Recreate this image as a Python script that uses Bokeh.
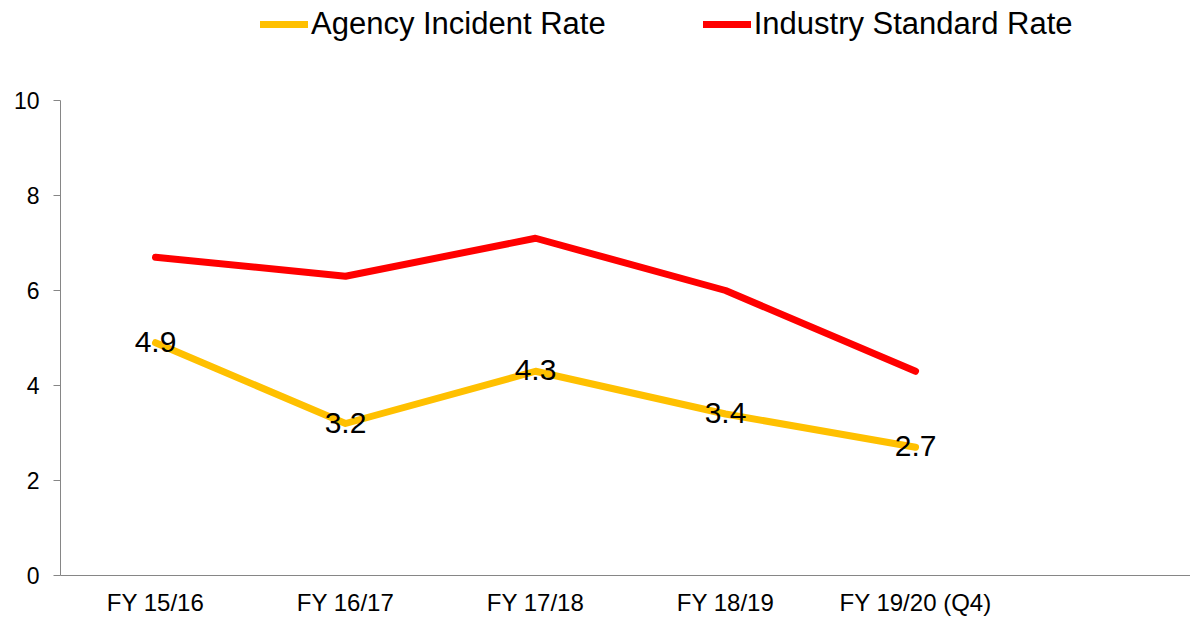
from bokeh.plotting import figure
from bokeh.models import ColumnDataSource, Legend, LegendItem, FixedTicker, Range1d
from bokeh.embed import file_html
from bokeh.resources import INLINE

categories = ["FY 15/16", "FY 16/17", "FY 17/18", "FY 18/19", "FY 19/20 (Q4)"]
agency = [4.9, 3.2, 4.3, 3.4, 2.7]
industry = [6.7, 6.3, 7.1, 6.0, 4.3]
y_ticks = [0, 2, 4, 6, 8, 10]

xs = list(range(1, len(categories) + 1))
src = ColumnDataSource(dict(x=xs, agency=agency, industry=industry,
                            lab=[f"{v:.1f}" for v in agency]))

FONT = "Liberation Sans"
AX = "#868686"

# frame covers the full height above the x axis; the y axis line is bounded to 0..10
p = figure(width=1190, height=619, output_backend="svg", toolbar_location=None,
           x_range=Range1d(0.5, 6.447), y_range=Range1d(0, 575 / 47.5),
           min_border_left=60, min_border_right=0, min_border_top=0, min_border_bottom=44)
p.outline_line_color = None
p.grid.visible = False
p.background_fill_color = "white"
p.border_fill_color = "white"

r_ag = p.line("x", "agency", source=src, line_color="#FFC000", line_width=7, line_cap="round", line_join="round")
r_in = p.line("x", "industry", source=src, line_color="#FF0000", line_width=7, line_cap="round", line_join="round")

p.text("x", "agency", text="lab", source=src, text_align="center", text_baseline="middle",
       text_font_size="30px", text_color="black", y_offset=-1, text_font={"value": FONT})

# axes
p.xaxis.ticker = FixedTicker(ticks=xs)
p.xaxis.major_label_overrides = {i: c for i, c in zip(xs, categories)}
p.xaxis.major_tick_out = 0
p.xaxis.major_tick_in = 0
p.xaxis.minor_tick_out = 0
p.xaxis.minor_tick_in = 0
p.xaxis.axis_line_color = AX
p.xaxis.major_label_text_font = FONT
p.xaxis.major_label_text_font_size = "24px"
p.xaxis.major_label_text_color = "black"
p.xaxis.major_label_standoff = 13

p.yaxis.ticker = FixedTicker(ticks=y_ticks)
p.yaxis.bounds = (0, 10)
p.yaxis.major_tick_out = 7
p.yaxis.major_tick_in = 0
p.yaxis.minor_tick_out = 0
p.yaxis.minor_tick_in = 0
p.yaxis.axis_line_color = AX
p.yaxis.major_tick_line_color = AX
p.yaxis.major_label_text_font = FONT
p.yaxis.major_label_text_font_size = "23px"
p.yaxis.major_label_text_color = "black"
p.yaxis.major_label_standoff = 14

legend = Legend(items=[LegendItem(label="Agency Incident Rate", renderers=[r_ag]),
                       LegendItem(label="Industry Standard Rate", renderers=[r_in])],
                orientation="horizontal", location=(200, 533),
                label_text_font=FONT, label_text_font_size="31px", label_text_color="black",
                glyph_width=48, glyph_height=36, label_standoff=3, spacing=97,
                padding=0, margin=0, border_line_color=None, background_fill_alpha=0)
p.add_layout(legend, "center")

open("out.html", "w").write(file_html(p, INLINE))
